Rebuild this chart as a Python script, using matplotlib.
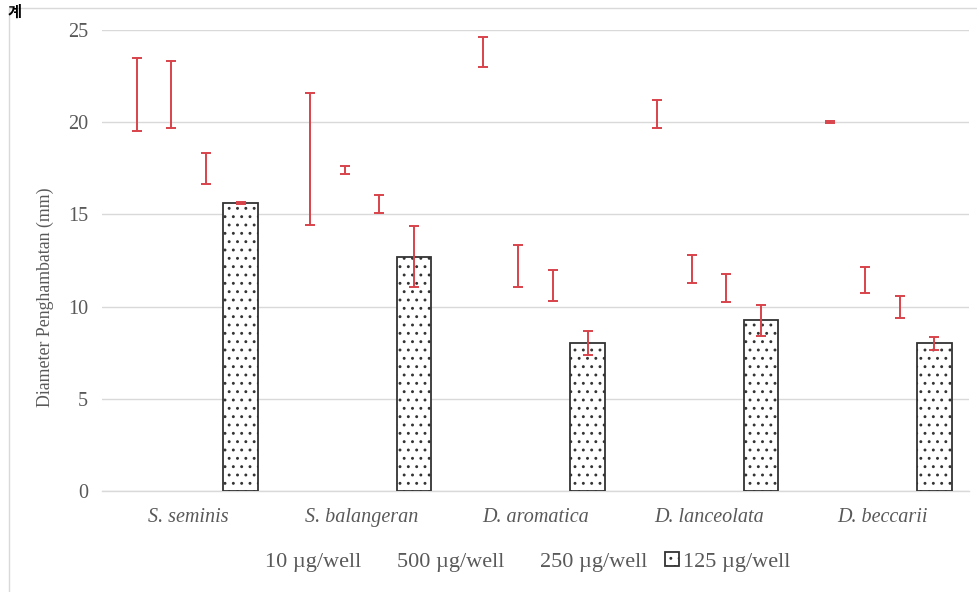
import numpy as np
import matplotlib
matplotlib.use("Agg")
from matplotlib import pyplot as plt
from matplotlib.patches import Rectangle

plt.rcParams['font.family'] = ['Liberation Serif', 'Noto Sans CJK KR', 'DejaVu Sans']
plt.rcParams['hatch.linewidth'] = 0.9

species = ['S. seminis', 'S. balangeran', 'D. aromatica', 'D. lanceolata', 'D. beccarii']
doses = ['10 µg/well', '500 µg/well', '250 µg/well', '125 µg/well']

# mean inhibition diameter (mm) per dose, one value per species
mean_10 = [21.5, 18.0, 23.8, 20.45, 20.0]
mean_500 = [21.5, 17.4, 12.2, 12.05, 11.45]
mean_250 = [17.5, 15.55, 11.15, 11.0, 10.0]
mean_125 = [15.6, 12.7, 8.0, 9.25, 8.0]

# standard deviations
sd_10 = [2.0, 3.6, 0.8, 0.75, 0.05]
sd_500 = [1.8, 0.2, 1.15, 0.75, 0.7]
sd_250 = [0.85, 0.5, 0.85, 0.75, 0.6]
sd_125 = [0.05, 1.65, 0.65, 0.85, 0.35]

means = [mean_10, mean_500, mean_250, mean_125]
sds = [sd_10, sd_500, sd_250, sd_125]

txt_col = '#595959'
grid_col = '#d9d9d9'
err_col = '#d9434b'

fig = plt.figure(figsize=(9.78, 5.92), dpi=100)
ax = fig.add_axes([102/978, 1-491/592, (969-102)/978, (491-30)/592])

x = np.arange(len(species))
width = 0.2
for i in range(4):
    pos = x + (i - 1.5)*width
    ekw = dict(ecolor=err_col, elinewidth=1.4, capsize=3.6, capthick=1.4, zorder=4)
    if i == 3:
        ax.bar(pos, means[i], width, yerr=sds[i], facecolor='white', edgecolor='#333333',
               linewidth=1.3, hatch='..', label=doses[i], error_kw=ekw, zorder=3)
    else:
        ax.bar(pos, means[i], width, yerr=sds[i], facecolor='none', edgecolor='none',
               label=doses[i], error_kw=ekw, zorder=3)

ax.set_xlim(-0.5, len(species) - 0.5)
ax.set_ylim(0, 25)
ax.set_yticks(range(0, 26, 5))
ax.set_xticks(x)
ax.set_xticklabels(species, style='italic', fontsize=15)
ax.tick_params(axis='both', length=0, labelsize=14.5, labelcolor=txt_col)
ax.tick_params(axis='y', pad=10)
ax.tick_params(axis='x', pad=12)
for s in ['top', 'right', 'left']:
    ax.spines[s].set_visible(False)
ax.spines['bottom'].set_color(grid_col)
ax.spines['bottom'].set_linewidth(1.0)
ax.yaxis.grid(True, color=grid_col, linewidth=1.0, zorder=0)
ax.set_axisbelow(True)

fig.text(45/978, 1-297/592, 'Diameter Penghambatan (mm)', rotation=90,
         ha='center', va='center', fontsize=12.8, color=txt_col)

leg = fig.legend(loc='center', bbox_to_anchor=(519/978, 1-562/592), ncol=4, frameon=False,
                 fontsize=16, handlelength=0.6, handleheight=0.6, handletextpad=0.2,
                 columnspacing=0.8, labelcolor=txt_col)

# chart frame and stray glyph in the corner
fig.patches.append(Rectangle((9/978, -0.1), 1.2, 1 - 8/592 + 0.1, transform=fig.transFigure,
                             facecolor='none', edgecolor=grid_col, linewidth=1.0))
fig.text(8/978, 1-6/592, '계', ha='left', va='top', fontsize=11, fontweight='bold', color='black')

fig.savefig('out.png', dpi=100)
